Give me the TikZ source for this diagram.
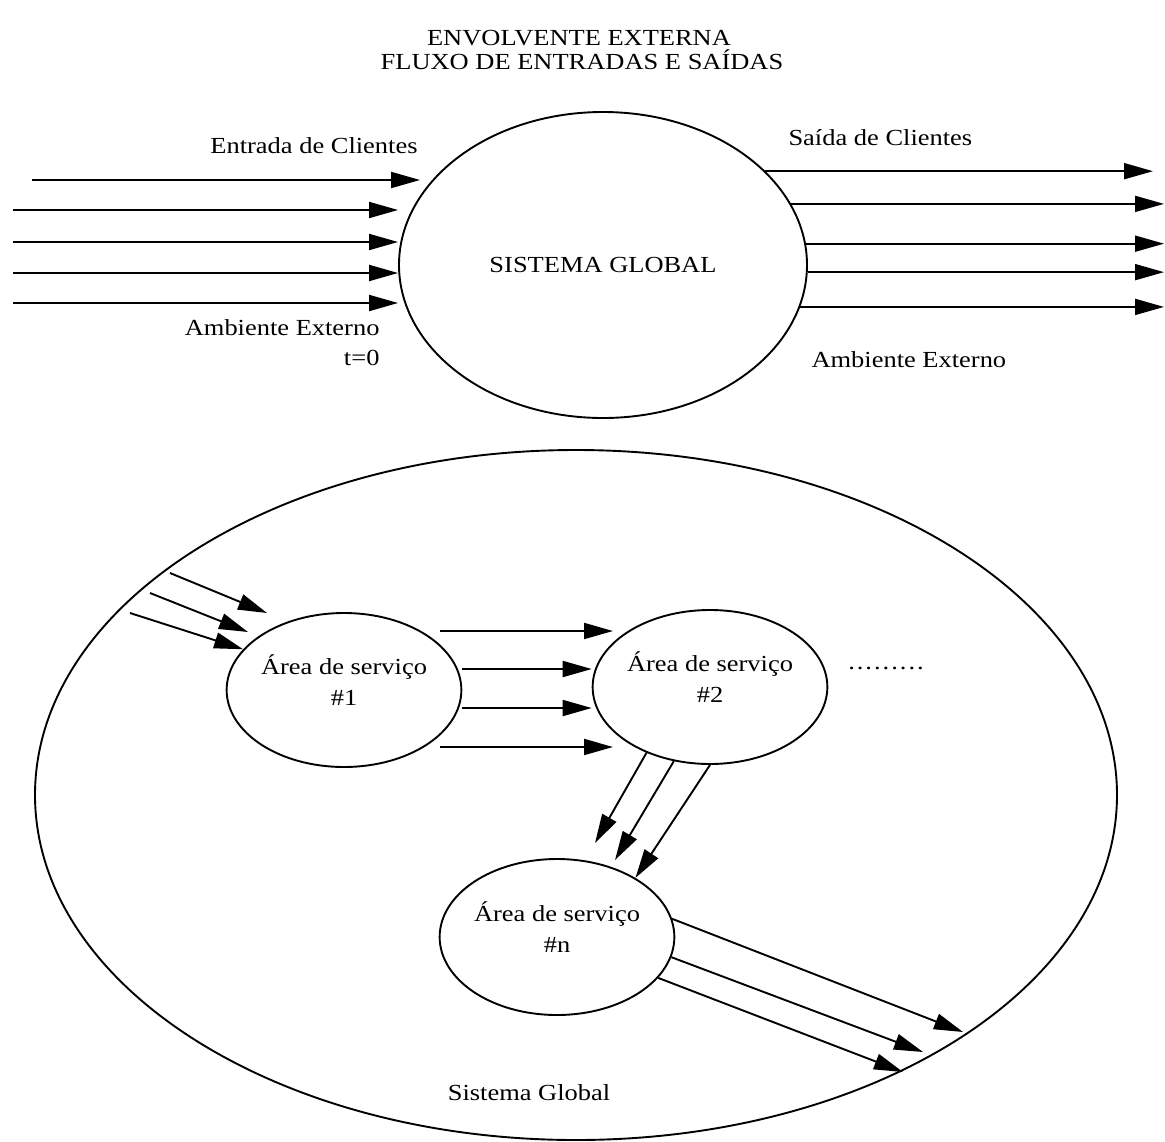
\documentclass[tikz,border=0pt]{standalone}
\usepackage{fontspec}
\setmainfont{Liberation Serif}[FakeStretch=1.15]
\usetikzlibrary{arrows.meta,shapes.geometric}
\newcommand\dotrow{.\kern2pt.\kern2pt.\kern2pt.\kern2pt.\kern2pt.\kern2pt.\kern2pt.\kern2pt.}

\begin{document}
\begin{tikzpicture}[x=1pt,y=-1pt,
  font=\fontsize{23}{31}\selectfont,
  flow/.style={line width=1.9pt,-{Triangle[length=29pt,width=16pt]}},
  area/.style={draw,ellipse,line width=1.9pt,inner sep=0pt,align=center}]
\useasboundingbox (0,0) rectangle (1165,1141);

% title
\node[anchor=base] (title1) at (579,45) {ENVOLVENTE EXTERNA};
\node[anchor=base] (title2) at (582,69) {FLUXO DE ENTRADAS E SAÍDAS};

% external envelope
\node[area,minimum width=408pt,minimum height=306pt] (sg) at (603,265) {SISTEMA GLOBAL};
\node[anchor=base] (inlbl) at (314,153) {Entrada de Clientes};
\node[anchor=base east] (amb1) at (383,335) {Ambiente Externo};
\node[anchor=base east] (tzero) at (383,365) {t=0};
\node[anchor=base west] (outlbl) at (785,145) {Saída de Clientes};
\node[anchor=base west] (amb2) at (808,367) {Ambiente Externo};

\coordinate (l0) at (32,180);
\coordinate (l0e) at (420,180);
\draw[flow] (l0) -- (l0e);
\foreach \y [count=\i] in {210,242,273,303}{
  \coordinate (l\i) at (13,\y);
  \draw[flow] (l\i) -- (l\i -| sg.west);
}
\coordinate (r0) at (1153,0);
\coordinate (r1) at (1164,0);
\draw[flow] (sg.30) -- (sg.30 -| r0);
\foreach \a in {18,6,-2,-12}
  \draw[flow] (sg.\a) -- (sg.\a -| r1);

% global system
\node[area,minimum width=1082pt,minimum height=690pt] (sgb) at (576,795) {};
\node[anchor=base] (sglbl) at (529,1100) {Sistema Global};

\node[area,minimum width=232pt,minimum height=154pt,text depth=19pt] (a1) at (344,690) {Área de serviço\\\#1};
\node[area,minimum width=234pt,minimum height=154pt,text depth=19pt] (a2) at (710,687) {Área de serviço\\\#2};
\node[area,minimum width=230pt,minimum height=156pt,text depth=19pt] (an) at (557,937) {Área de serviço\\\#n};
\node (dots) at (886,668) {\dotrow};

% into area 1
\coordinate (e1) at (170,573);
\coordinate (e1e) at (267,613);
\coordinate (e2) at (150,593);
\coordinate (e2e) at (248,632);
\coordinate (e3) at (130,613);
\draw[flow] (e1) -- (e1e);
\draw[flow] (e2) -- (e2e);
\draw[flow] (e3) -- (a1.158);

% area 1 to area 2
\coordinate (h1) at (440,631);
\coordinate (h1e) at (613,631);
\coordinate (h2) at (0,669);
\coordinate (h3) at (0,708);
\coordinate (h4) at (440,747);
\coordinate (h4e) at (613,747);
\draw[flow] (h1) -- (h1e);
\draw[flow] (a1.east |- h2) -- (a2.west |- h2);
\draw[flow] (a1.east |- h3) -- (a2.west |- h3);
\draw[flow] (h4) -- (h4e);

% area 2 to area n
\coordinate (d1e) at (595,843);
\coordinate (d2e) at (615,860);
\draw[flow] (a2.-134) -- (d1e);
\draw[flow] (a2.-116) -- (d2e);
\draw[flow] (a2.south) -- (an.37);

% out of area n
\coordinate (o1e) at (963,1032);
\coordinate (o2e) at (923,1052);
\coordinate (o3e) at (903,1072);
\draw[flow] (an.9) -- (o1e);
\draw[flow] (an.-10) -- (o2e);
\draw[flow] (an.-22) -- (o3e);
\end{tikzpicture}
\end{document}
